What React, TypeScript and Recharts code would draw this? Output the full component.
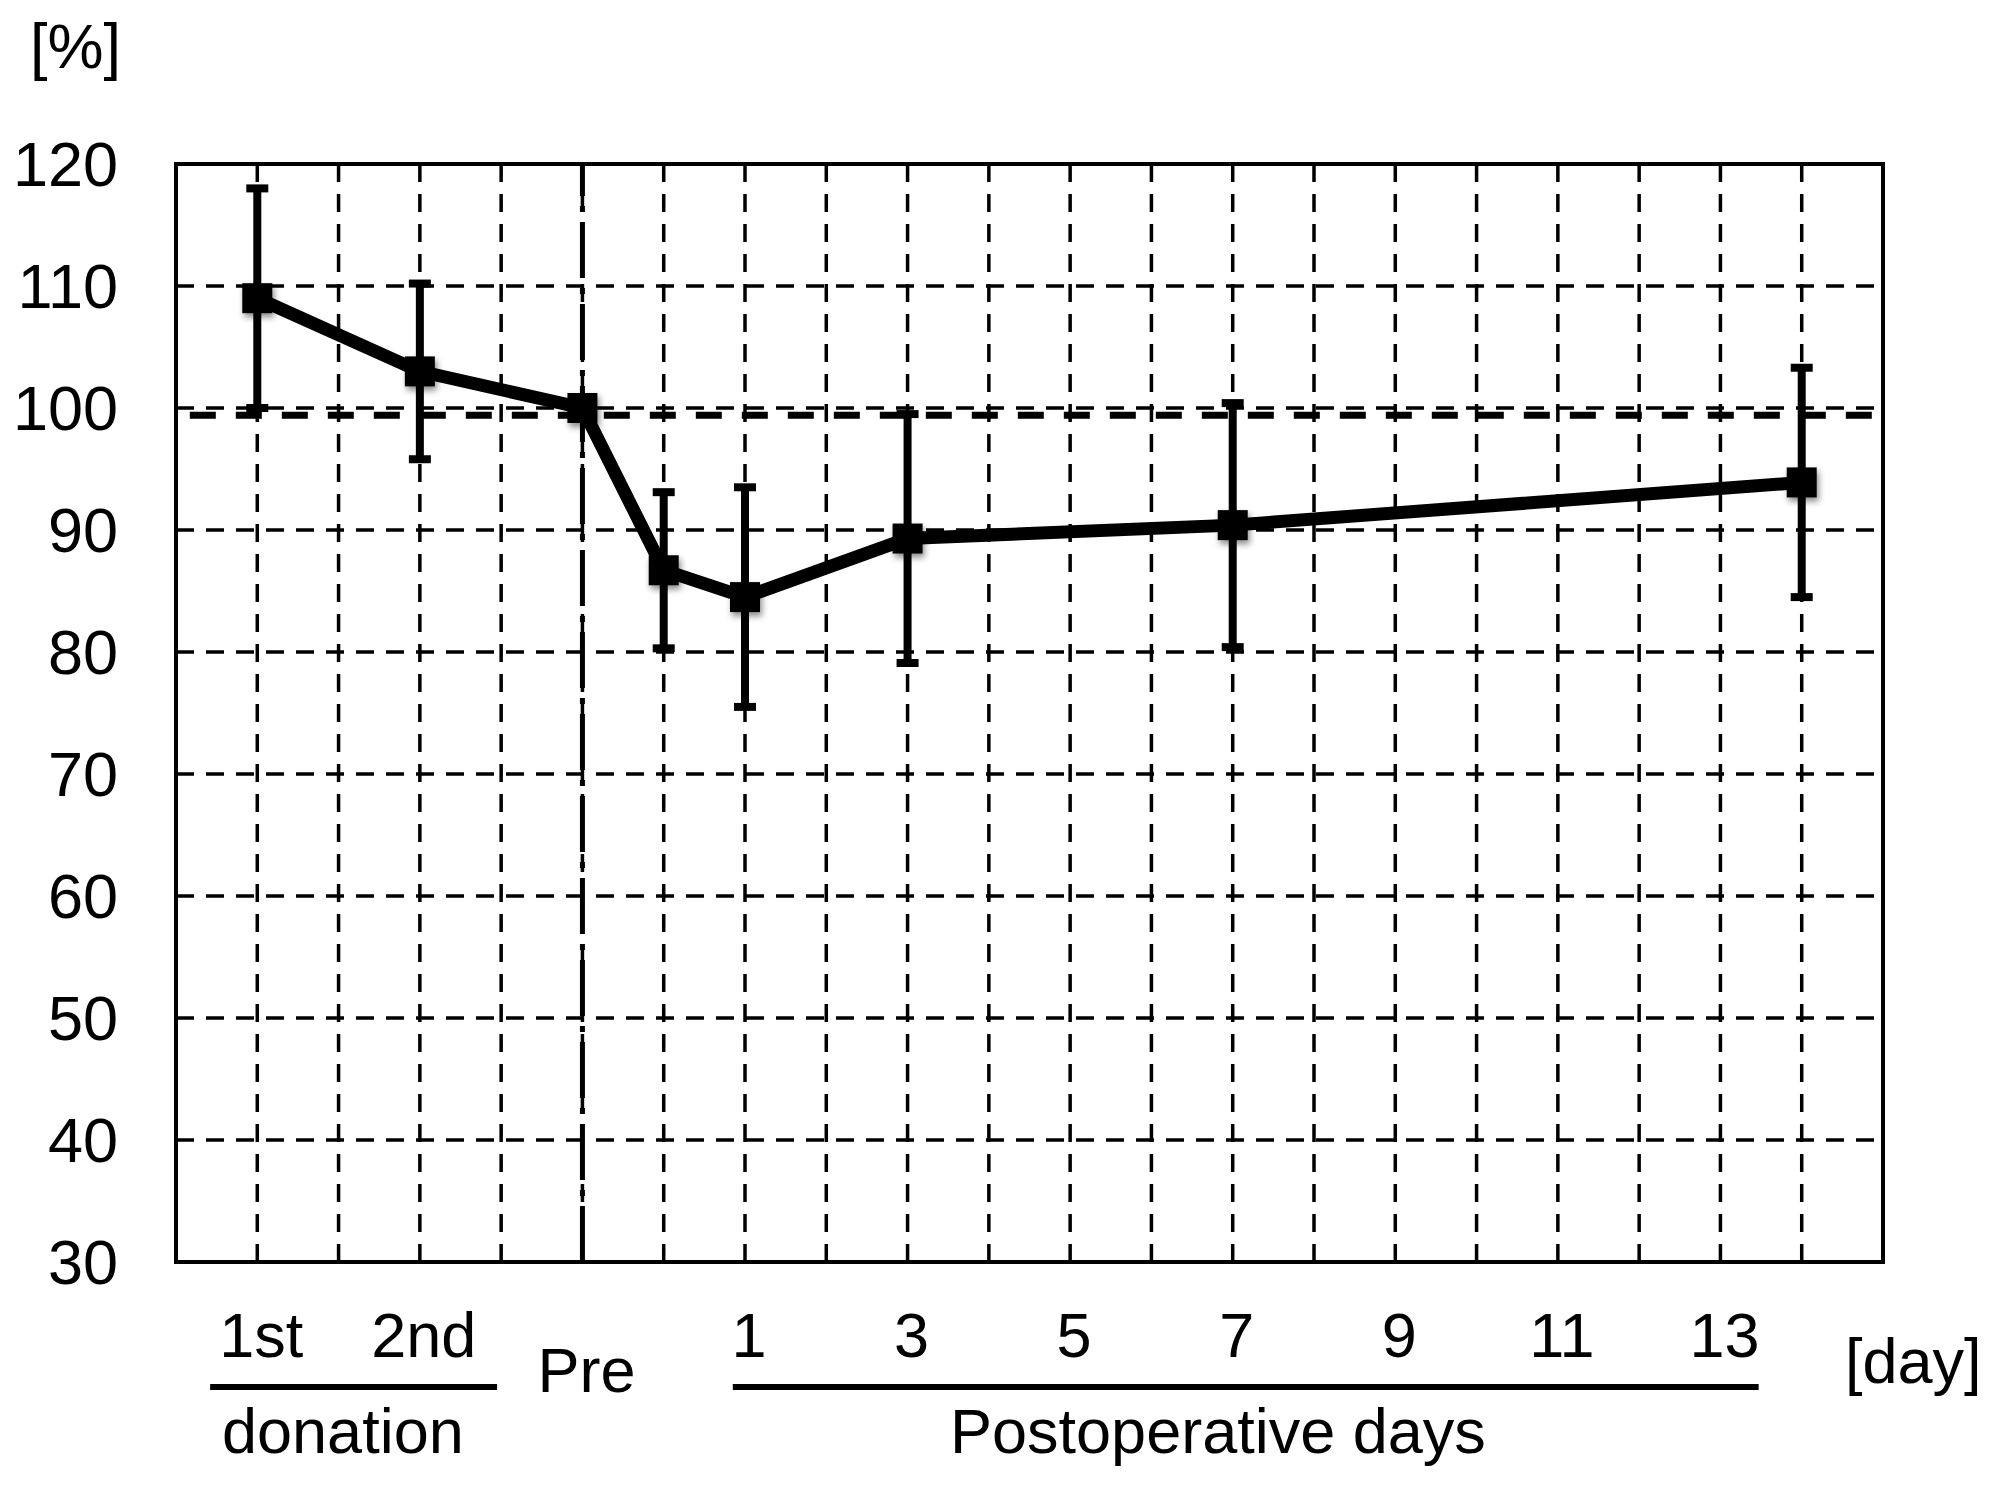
import React from 'react';
import {
  LineChart,
  Line,
  XAxis,
  YAxis,
  CartesianGrid,
  ErrorBar,
  ReferenceLine,
  ReferenceArea,
} from 'recharts';

// x positions on the day grid: 1st, 2nd donation, Pre, then postoperative day 0, 1, 3, 7, 14
const pointNames = ['1st', '2nd', 'Pre', 'POD0', 'POD1', 'POD3', 'POD7', 'POD14'];
const pointPositions = [1, 3, 5, 6, 7, 9, 13, 20];
const meanValues = [109, 103, 100, 86.7, 84.5, 89.3, 90.4, 93.9];
const sdValues = [9, 7.2, 0, 6.4, 9, 10.2, 10, 9.4];

const gridPositions = [1, 2, 3, 4, 5, 6, 7, 8, 9, 10, 11, 12, 13, 14, 15, 16, 17, 18, 19, 20];
const tickValues = [1, 3, 5, 7, 9, 11, 13, 15, 17, 19];
const tickTexts = ['1st', '2nd', 'Pre', '1', '3', '5', '7', '9', '11', '13'];
const yTicks = [30, 40, 50, 60, 70, 80, 90, 100, 110, 120];

const baselineValue = 99.4;

const FONT = '"Liberation Sans", Arial, sans-serif';
const FONT_SIZE = 63;

const data = pointPositions.map((x, i) => ({
  name: pointNames[i],
  x,
  value: meanValues[i],
  err: sdValues[i],
}));

interface TickProps {
  x?: number;
  y?: number;
  payload?: { value: number };
}

const DayTick: React.FC<TickProps> = ({ x, y, payload }) => {
  if (typeof x !== 'number' || typeof y !== 'number' || !payload) {
    return <g />;
  }
  const i = tickValues.indexOf(payload.value);
  if (i < 0) {
    return <g />;
  }
  const text = tickTexts[i];
  const isPre = text === 'Pre';
  return (
    <text
      x={x + 4}
      y={y + (isPre ? 130 : 95)}
      textAnchor="middle"
      fontSize={FONT_SIZE}
      fontFamily={FONT}
      fill="#000"
    >
      {text}
    </text>
  );
};

interface DotProps {
  cx?: number;
  cy?: number;
}

const SquareDot: React.FC<DotProps> = ({ cx, cy }) => {
  if (typeof cx !== 'number' || typeof cy !== 'number') {
    return <g />;
  }
  return (
    <rect
      x={cx - 15}
      y={cy - 15}
      width={30}
      height={30}
      fill="#000"
      style={{ filter: 'drop-shadow(2px 4px 3px rgba(0,0,0,0.45))' }}
    />
  );
};

const App: React.FC = () => {
  return (
    <div
      style={{
        position: 'absolute',
        left: 0,
        top: 0,
        width: 2004,
        height: 1486,
        background: '#fff',
        fontFamily: FONT,
      }}
    >
      <LineChart
        width={2004}
        height={1486}
        data={data}
        margin={{ top: 164, right: 121, bottom: 194, left: 26 }}
      >
        <CartesianGrid
          stroke="#000"
          strokeWidth={3.5}
          strokeDasharray="18 12"
        />
        <XAxis
          dataKey="x"
          type="number"
          domain={[0, 21]}
          ticks={gridPositions}
          interval={0}
          axisLine={false}
          tickLine={false}
          tickSize={0}
          tickMargin={0}
          height={30}
          tick={<DayTick />}
        />
        <YAxis
          type="number"
          domain={[30, 120]}
          ticks={yTicks}
          interval={0}
          width={150}
          axisLine={false}
          tickLine={false}
          tickSize={0}
          tickMargin={58}
          tick={{ fill: '#000', fontSize: FONT_SIZE, fontFamily: FONT }}
        />
        <ReferenceLine
          segment={[
            { x: 0.17, y: baselineValue },
            { x: 21, y: baselineValue },
          ]}
          stroke="#000"
          strokeWidth={7}
          strokeDasharray="26 20"
        />
        <ReferenceLine
          x={5}
          stroke="#000"
          strokeWidth={5}
          strokeDasharray="56 10 6 10"
        />
        <ReferenceArea
          x1={0}
          x2={21}
          y1={30}
          y2={120}
          fill="none"
          stroke="#000"
          strokeWidth={4}
        />
        {/* group underlines below the axis */}
        <ReferenceLine
          segment={[
            { x: 0.42, y: 19.75 },
            { x: 3.95, y: 19.75 },
          ]}
          stroke="#000"
          strokeWidth={6}
          ifOverflow="visible"
        />
        <ReferenceLine
          segment={[
            { x: 6.85, y: 19.75 },
            { x: 19.47, y: 19.75 },
          ]}
          stroke="#000"
          strokeWidth={6}
          ifOverflow="visible"
        />
        <Line
          dataKey="value"
          stroke="#000"
          strokeWidth={13}
          dot={<SquareDot />}
          activeDot={false}
          isAnimationActive={false}
        >
          <ErrorBar
            dataKey="err"
            direction="y"
            width={11}
            stroke="#000"
            strokeWidth={8}
            isAnimationActive={false}
          />
        </Line>
      </LineChart>
      <svg
        width={2004}
        height={1486}
        style={{ position: 'absolute', left: 0, top: 0, pointerEvents: 'none' }}
      >
        <g fontFamily={FONT} fontSize={FONT_SIZE} fill="#000">
          <text x={30} y={68}>[%]</text>
          <text x={1845} y={1383}>[day]</text>
          <text x={222} y={1453}>donation</text>
          <text x={950} y={1453}>Postoperative days</text>
        </g>
      </svg>
    </div>
  );
};

export default App;
